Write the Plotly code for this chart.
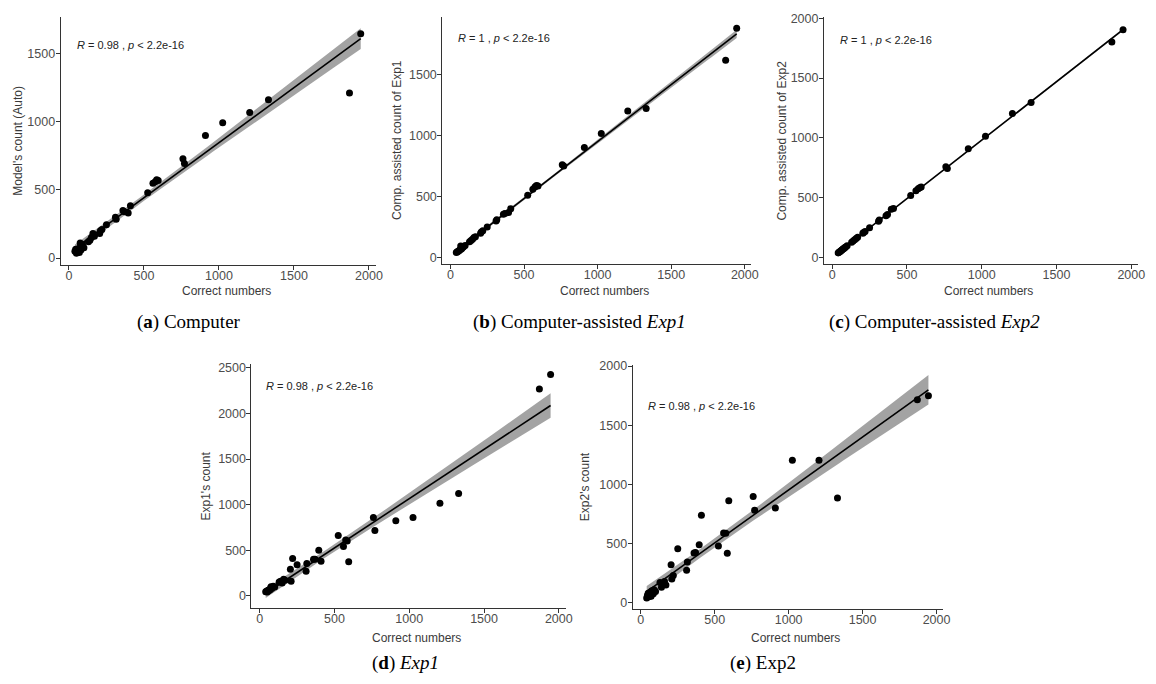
import numpy as np
import plotly.graph_objects as go

# ---------------- data ----------------
correct = [40, 45, 50, 55, 60, 65, 70, 75, 80, 85, 90, 100, 130, 140, 150, 160, 170,
           205, 210, 220, 250, 310, 315, 360, 370, 395, 410, 525, 560, 575, 585, 595,
           760, 770, 910, 1025, 1205, 1330, 1870, 1945]

auto_count = [50, 65, 35, 55, 45, 70, 40, 110, 60, 90, 100, 75, 120, 130, 150, 180, 160,
              180, 200, 210, 245, 300, 285, 350, 340, 330, 385, 480, 550, 560, 575, 570,
              730, 694, 900, 994, 1070, 1162, 1213, 1647]

comp_exp1 = [42, 45, 50, 55, 58, 65, 95, 70, 80, 85, 90, 100, 130, 140, 150, 165, 170,
             200, 210, 220, 250, 300, 310, 355, 360, 370, 400, 510, 560, 580, 590, 585,
             760, 750, 900, 1015, 1200, 1220, 1615, 1877]

comp_exp2 = [40, 45, 50, 55, 60, 65, 70, 75, 80, 85, 90, 100, 130, 140, 150, 160, 170,
             205, 210, 220, 250, 305, 315, 350, 360, 405, 410, 520, 560, 575, 585, 590,
             760, 745, 910, 1015, 1205, 1295, 1800, 1904]

exp1_count = [45, 50, 40, 60, 55, 70, 65, 100, 80, 90, 105, 95, 150, 160, 140, 180, 170,
              290, 160, 410, 340, 270, 355, 400, 400, 500, 380, 660, 540, 612, 600, 373,
              859, 717, 823, 859, 1014, 1123, 2268, 2427]

exp2_count = [40, 60, 80, 50, 70, 90, 55, 100, 85, 75, 110, 95, 170, 130, 160, 180, 150,
              320, 200, 230, 455, 275, 345, 420, 425, 490, 740, 480, 590, 586, 418, 862,
              898, 781, 800, 1205, 1205, 884, 1715, 1749]

y_titles = ["Model's count (Auto)", "Comp. assisted count of Exp1",
            "Comp. assisted count of Exp2", "Exp1's count", "Exp2's count"]
stat_labels = ["<i>R</i> = 0.98 , <i>p</i> &lt; 2.2e-16", "<i>R</i> = 1 , <i>p</i> &lt; 2.2e-16",
               "<i>R</i> = 1 , <i>p</i> &lt; 2.2e-16", "<i>R</i> = 0.98 , <i>p</i> &lt; 2.2e-16",
               "<i>R</i> = 0.98 , <i>p</i> &lt; 2.2e-16"]
captions = ["(<b>a</b>) Computer", "(<b>b</b>) Computer-assisted <i>Exp1</i>",
            "(<b>c</b>) Computer-assisted <i>Exp2</i>", "(<b>d</b>) <i>Exp1</i>",
            "(<b>e</b>) Exp2"]
x_ticks = [0, 500, 1000, 1500, 2000]
y_ticks = [[0, 500, 1000, 1500], [0, 500, 1000, 1500], [0, 500, 1000, 1500, 2000],
           [0, 500, 1000, 1500, 2000, 2500], [0, 500, 1000, 1500, 2000]]
series = [auto_count, comp_exp1, comp_exp2, exp1_count, exp2_count]

# ---------------- layout geometry (page pixels) ----------------
PAGE_OFF = 8            # default page body margin
W, H = 1156 - 2 * PAGE_OFF, 684 - 2 * PAGE_OFF
# (left, right, top, bottom) of each panel in page pixels
boxes = [(61, 378, 12, 262), (445, 756, 12, 261), (829, 1145, 12, 261),
         (253, 569, 362, 608), (636.5, 949, 363, 609)]
y_ranges = [[-49, 1771], [-50, 1969], [-50, 2010], [-130, 2545], [-50, 2011]]
x_range = [-55, 2045]
ytitle_x = [18, 400, 787, 207, 588]
xtitle_y = [289, 289, 289, 639, 639]
stat_pos = [(75, 40), (459, 33), (843, 35), (266, 384), (650, 405)]
caption_pos = [(190, 320), (583, 320), (940, 320), (408, 664), (768, 664)]


def px(x):
    return (x - PAGE_OFF) / W


def py(y):
    return 1 - (y - PAGE_OFF) / H


fig = go.Figure()
T_CRIT = 2.023
annotations = []
axis_font = dict(family="Liberation Sans, Arial, sans-serif", size=12.5, color="#4d4d4d")

for i, ys in enumerate(series):
    k = "" if i == 0 else str(i + 1)
    xa, ya = "x" + k, "y" + k
    x = np.array(correct, dtype=float)
    y = np.array(ys, dtype=float)
    n = len(x)
    b1, b0 = np.polyfit(x, y, 1)
    resid = y - (b0 + b1 * x)
    s = np.sqrt(np.sum(resid ** 2) / (n - 2))
    xg = np.linspace(x.min(), x.max(), 80)
    yg = b0 + b1 * xg
    se = s * np.sqrt(1 / n + (xg - x.mean()) ** 2 / np.sum((x - x.mean()) ** 2))
    lo, hi = yg - T_CRIT * se, yg + T_CRIT * se

    fig.add_trace(go.Scatter(x=xg, y=lo, mode="lines", line=dict(width=0),
                             xaxis=xa, yaxis=ya, showlegend=False, hoverinfo="skip"))
    fig.add_trace(go.Scatter(x=xg, y=hi, mode="lines", line=dict(width=0),
                             fill="tonexty", fillcolor="rgba(140,140,140,0.8)",
                             xaxis=xa, yaxis=ya, showlegend=False, hoverinfo="skip"))
    fig.add_trace(go.Scatter(x=x, y=y, mode="markers",
                             marker=dict(color="black", size=7),
                             xaxis=xa, yaxis=ya, showlegend=False))
    fig.add_trace(go.Scatter(x=xg, y=yg, mode="lines", line=dict(color="black", width=1.6),
                             xaxis=xa, yaxis=ya, showlegend=False))

    l, r, t, b = boxes[i]
    common = dict(showline=True, linecolor="#333333", linewidth=1, ticks="outside",
                  ticklen=4, tickcolor="#333333", showgrid=False, zeroline=False,
                  tickfont=axis_font)
    fig.update_layout(**{
        "xaxis" + k: dict(domain=[px(l), px(r)], range=x_range, tickvals=x_ticks,
                          anchor=ya, ticklabelstandoff=-5, **common),
        "yaxis" + k: dict(domain=[py(b), py(t)], range=y_ranges[i], tickvals=y_ticks[i],
                          anchor=xa, ticklabelstandoff=-2, **common),
    })

    # axis titles
    annotations.append(dict(x=px(ytitle_x[i]), y=py((t + b) / 2), xref="paper", yref="paper",
                            text=y_titles[i], textangle=-90, showarrow=False,
                            font=dict(family="Liberation Sans, Arial, sans-serif", size=12,
                                      color="#3a3a3a"),
                            xanchor="center", yanchor="middle"))
    annotations.append(dict(x=px((l + r) / 2 + 8), y=py(xtitle_y[i]), xref="paper", yref="paper",
                            text="Correct numbers", showarrow=False,
                            font=dict(family="Liberation Sans, Arial, sans-serif", size=12,
                                      color="#3a3a3a"),
                            xanchor="center", yanchor="middle"))
    # statistic label
    sx, sy = stat_pos[i]
    annotations.append(dict(x=px(sx), y=py(sy), xref="paper", yref="paper",
                            text=stat_labels[i], showarrow=False,
                            font=dict(family="Liberation Sans, Arial, sans-serif", size=11,
                                      color="#222222"),
                            xanchor="left", yanchor="middle"))
    # caption
    cx, cy = caption_pos[i]
    annotations.append(dict(x=px(cx), y=py(cy), xref="paper", yref="paper",
                            text=captions[i], showarrow=False,
                            font=dict(family="Liberation Serif, serif", size=19, color="black"),
                            xanchor="center", yanchor="middle"))

fig.update_layout(width=W, height=H, margin=dict(l=0, r=0, t=0, b=0),
                  paper_bgcolor="white", plot_bgcolor="white",
                  annotations=annotations, showlegend=False)

fig.write_html("out.html")
